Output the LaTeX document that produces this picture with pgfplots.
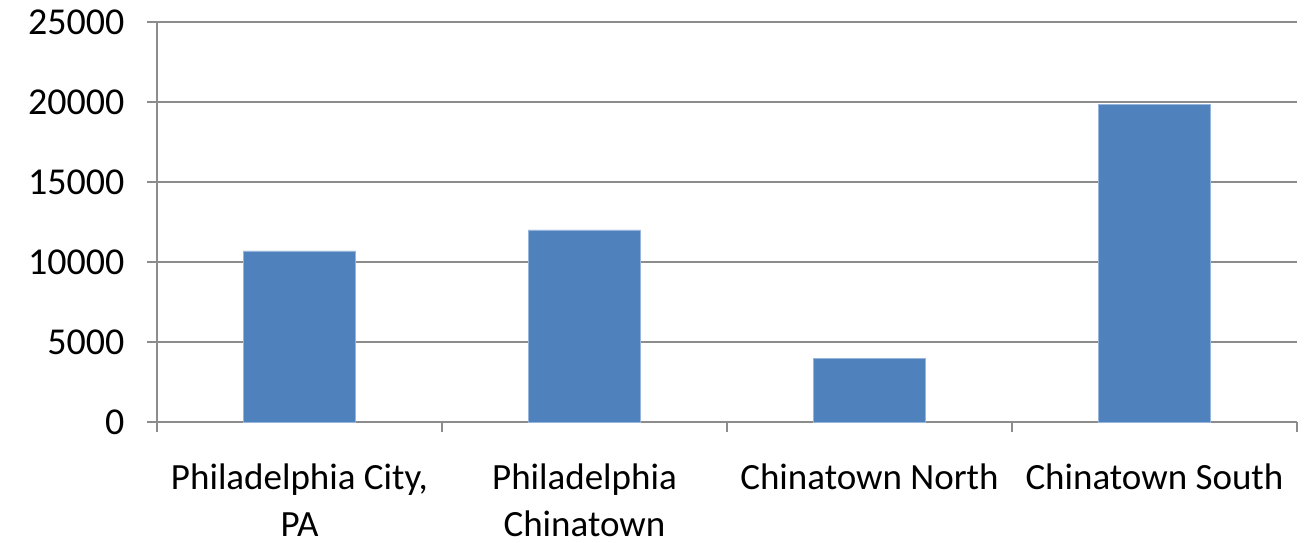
\documentclass[border=0pt]{standalone}
\usepackage{fontspec}
\setmainfont{Carlito}
\usepackage{pgfplots}
\pgfplotsset{compat=1.18}

\definecolor{barblue}{RGB}{79,129,189}
\definecolor{baredge}{RGB}{150,180,220}
\definecolor{gridgray}{RGB}{140,140,140}

\begin{document}
\begin{tikzpicture}
\useasboundingbox (-157pt,-121pt) rectangle (1149pt,422pt);
\begin{axis}[
  scale only axis,
  width=1140pt, height=400pt,
  at={(0,0)}, anchor=south west,
  xmin=-0.5, xmax=3.5,
  ymin=0, ymax=25000,
  axis x line=bottom, axis y line=left,
  axis line style={-, draw=gridgray, line width=1.5pt},
  ytick={0,5000,...,25000},
  ymajorgrids,
  grid style={draw=gridgray, line width=1.5pt},
  scaled y ticks=false,
  yticklabel style={/pgf/number format/1000 sep={}},
  /pgf/number format/assume math mode=true,
  tick align=outside,
  major tick length=10pt,
  minor tick length=10pt,
  every tick/.style={draw=gridgray, line width=1.5pt},
  xtick={0,1,2,3},
  xticklabels={{Philadelphia City,\\PA},{Philadelphia\\Chinatown},{Chinatown North},{Chinatown South}},
  major x tick style={draw=none},
  minor xtick={-0.5,0.5,1.5,2.5,3.5},
  minor x tick style={draw=gridgray, line width=1.5pt},
  tick label style={text=black},
  yticklabel style={font=\fontsize{38}{46}\selectfont, xshift=-19pt},
  xticklabel style={font=\fontsize{37}{47}\selectfont, align=center, yshift=-28pt},
  clip=false,
]
\addplot[ybar, bar width=112pt, fill=barblue, draw=baredge, line width=0.8pt]
  coordinates {(0,10690) (1,12000) (2,4000) (3,19850)};
\end{axis}
\end{tikzpicture}
\end{document}
